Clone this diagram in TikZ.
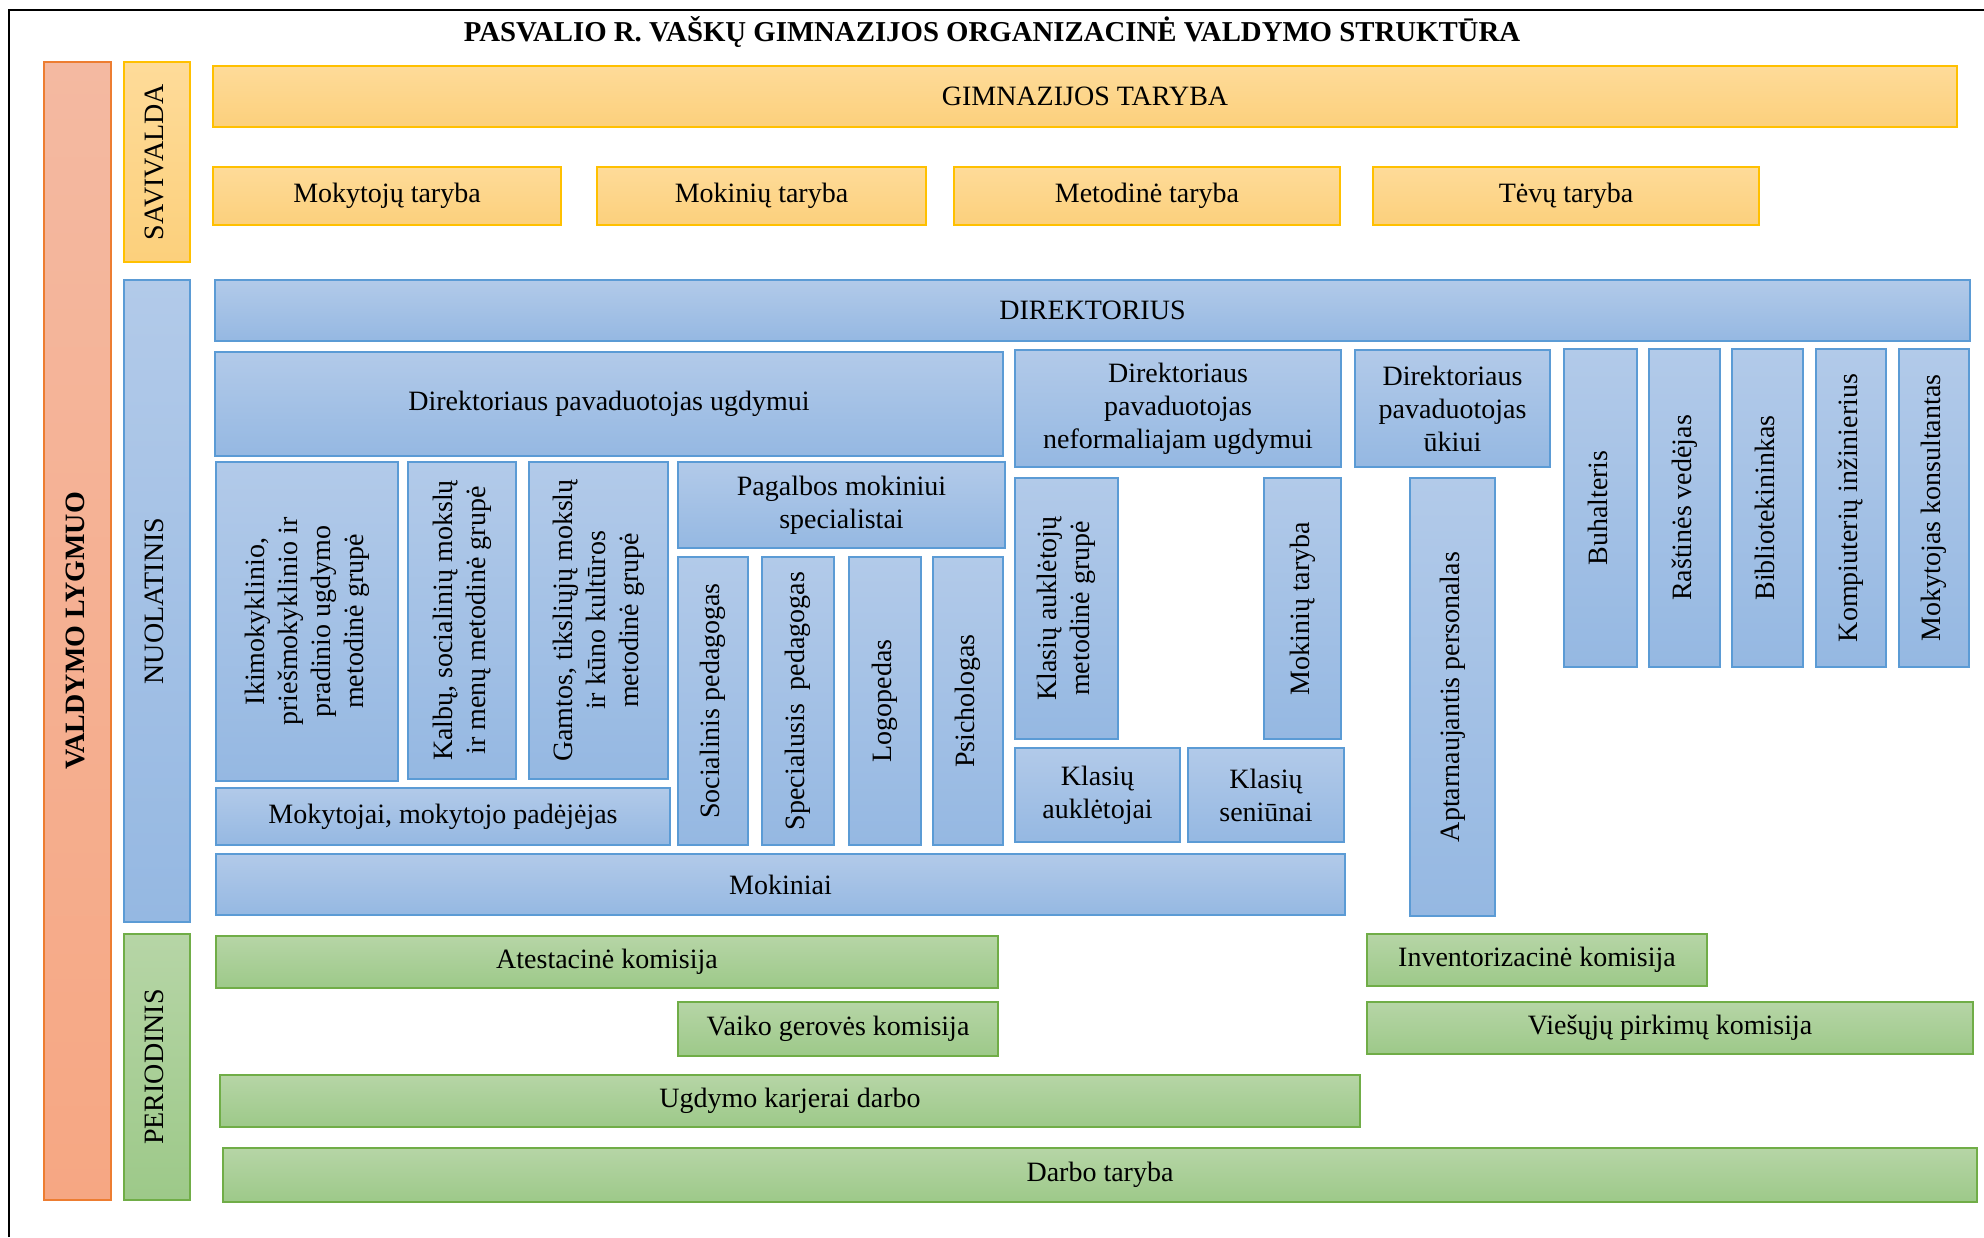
\documentclass[tikz,border=0pt]{standalone}
\usepackage{fontspec}
\setmainfont{Liberation Serif}
\usepackage{graphicx}

\definecolor{goldline}{RGB}{255,192,0}
\definecolor{goldtop}{RGB}{254,219,153}
\definecolor{goldbot}{RGB}{252,208,124}
\definecolor{blueline}{RGB}{91,155,213}
\definecolor{bluetop}{RGB}{178,202,233}
\definecolor{bluebot}{RGB}{149,184,226}
\definecolor{greenline}{RGB}{112,173,71}
\definecolor{greentop}{RGB}{182,213,166}
\definecolor{greenbot}{RGB}{157,201,137}
\definecolor{salmonline}{RGB}{237,125,49}
\definecolor{salmontop}{RGB}{244,185,161}
\definecolor{salmonbot}{RGB}{246,167,131}

\tikzset{
  box/.style={draw, line width=0.8pt, inner sep=0pt, outer sep=0pt, align=center,
    font=\fontsize{14}{16.5}\selectfont},
  goldbox/.style={box, draw=goldline, top color=goldtop, bottom color=goldbot},
  bluebox/.style={box, draw=blueline, top color=bluetop, bottom color=bluebot},
  greenbox/.style={box, draw=greenline, top color=greentop, bottom color=greenbot},
  salmonbox/.style={box, draw=salmonline, top color=salmontop, bottom color=salmonbot}
}

\newcommand{\orgbox}[7]{%
  \node[#2, minimum width={(#5-#3)*0.5pt}, minimum height={(#6-#4)*0.5pt}]
    (#1) at ({(#3+#5)/2},{(#4+#6)/2}) {#7};}
\newcommand{\vlabel}[1]{\rotatebox{90}{\begin{tabular}{@{}c@{}}#1\end{tabular}}}

\begin{document}
\begin{tikzpicture}[x=0.5pt, y=-0.5pt]
  \useasboundingbox (0,0) rectangle (1984,1237);
  \draw[line width=1.2pt] (9,1237) |- (1984,10);

  \node[font=\fontsize{14.4}{17}\selectfont\bfseries] (title) at (992,32)
    {PASVALIO R. VAŠKŲ GIMNAZIJOS ORGANIZACINĖ VALDYMO STRUKTŪRA};

  \orgbox{valdymo}{salmonbox}{44}{62}{111}{1200}{\vlabel{\bfseries VALDYMO LYGMUO}}

  \orgbox{savivalda}{goldbox}{124}{62}{190}{262}{\vlabel{SAVIVALDA}}
  \orgbox{gimntaryba}{goldbox}{213}{66}{1957}{127}{GIMNAZIJOS TARYBA}
  \foreach \nm/\xa/\xb/\txt in {mokytojutar/213/561/Mokytojų taryba,
      mokiniutar/597/926/Mokinių taryba, metodtar/954/1340/Metodinė taryba,
      tevutar/1373/1759/Tėvų taryba} {
    \orgbox{\nm}{goldbox}{\xa}{167}{\xb}{225}{\txt}
  }

  \orgbox{nuolatinis}{bluebox}{124}{280}{190}{922}{\vlabel{NUOLATINIS}}
  \orgbox{direktorius}{bluebox}{215}{280}{1970}{341}{DIREKTORIUS}
  \orgbox{pavugd}{bluebox}{215}{352}{1003}{456}{Direktoriaus pavaduotojas ugdymui}
  \orgbox{ikimok}{bluebox}{216}{462}{398}{781}
    {\vlabel{Ikimokyklinio,\\priešmokyklinio ir\\pradinio ugdymo\\metodinė grupė}}
  \orgbox{kalbu}{bluebox}{408}{462}{516}{779}
    {\vlabel{Kalbų, socialinių mokslų\\ir menų metodinė grupė}}
  \orgbox{gamtos}{bluebox}{529}{462}{668}{779}
    {\vlabel{Gamtos, tiksliųjų mokslų\\ir kūno kultūros\\metodinė grupė}}
  \orgbox{mokytojai}{bluebox}{216}{788}{670}{845}{Mokytojai, mokytojo padėjėjas}
  \orgbox{pagalbos}{bluebox}{678}{462}{1005}{548}{Pagalbos mokiniui\\specialistai}
  \foreach \nm/\xa/\xb/\txt in {socped/678/748/Socialinis pedagogas,
      specped/762/834/Specialusis\ \ pedagogas, logoped/849/921/Logopedas,
      psich/933/1003/Psichologas} {
    \orgbox{\nm}{bluebox}{\xa}{557}{\xb}{845}{\vlabel{\txt}}
  }
  \orgbox{pavneform}{bluebox}{1015}{350}{1341}{467}
    {Direktoriaus\\pavaduotojas\\neformaliajam ugdymui}
  \orgbox{klaukmet}{bluebox}{1015}{478}{1118}{739}{\vlabel{Klasių auklėtojų\\metodinė grupė}}
  \orgbox{mokiniutarv}{bluebox}{1264}{478}{1341}{739}{\vlabel{Mokinių taryba}}
  \orgbox{klauk}{bluebox}{1015}{748}{1180}{842}{Klasių\\auklėtojai}
  \orgbox{klsen}{bluebox}{1188}{748}{1344}{842}{Klasių\\seniūnai}
  \orgbox{mokiniai}{bluebox}{216}{854}{1345}{915}{Mokiniai}
  \orgbox{pavukio}{bluebox}{1355}{350}{1550}{467}{Direktoriaus\\pavaduotojas\\ūkiui}
  \orgbox{aptarn}{bluebox}{1410}{478}{1495}{916}{\vlabel{Aptarnaujantis personalas}}
  \foreach \nm/\xa/\xb/\txt in {buhalt/1564/1637/Buhalteris,
      rastine/1649/1720/Raštinės vedėjas, biblio/1732/1803/Bibliotekininkas,
      kompiut/1816/1886/Kompiuterių inžinierius, mokkons/1899/1969/Mokytojas konsultantas} {
    \orgbox{\nm}{bluebox}{\xa}{349}{\xb}{667}{\vlabel{\txt}}
  }

  \orgbox{periodinis}{greenbox}{124}{934}{190}{1200}{\vlabel{PERIODINIS}}
  \orgbox{atest}{greenbox}{216}{936}{998}{988}{Atestacinė komisija}
  \orgbox{vaiko}{greenbox}{678}{1002}{998}{1056}{Vaiko gerovės komisija}
  \orgbox{karjer}{greenbox}{220}{1075}{1360}{1127}{Ugdymo karjerai darbo}
  \orgbox{darbo}{greenbox}{223}{1148}{1977}{1202}{Darbo taryba}
  \orgbox{invent}{greenbox}{1367}{934}{1707}{986}{Inventorizacinė komisija}
  \orgbox{viesuju}{greenbox}{1367}{1002}{1973}{1054}{Viešųjų pirkimų komisija}
\end{tikzpicture}
\end{document}
